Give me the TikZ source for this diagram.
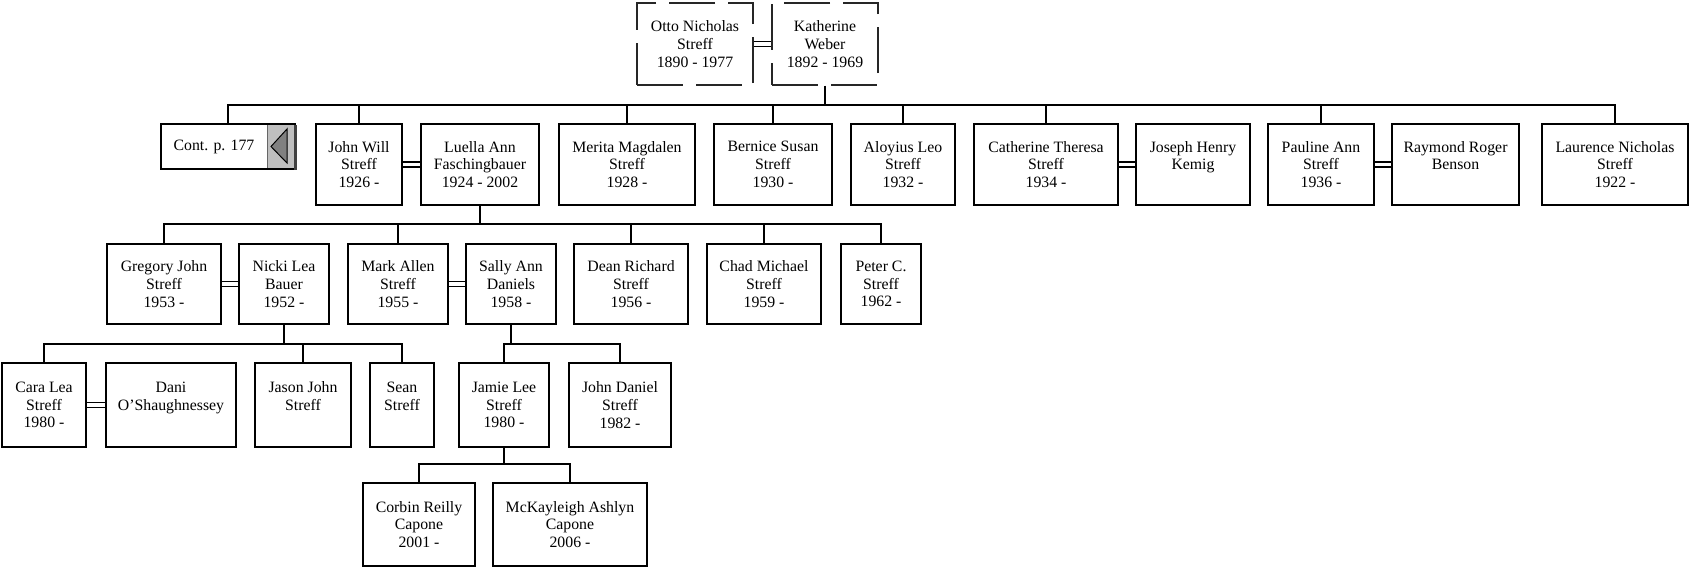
\documentclass[tikz,border=0pt]{standalone}
\usepackage{fontspec}
\setmainfont{Liberation Serif}
\newcommand\boxfont{\fontsize{15.8}{17.8}\selectfont}
\newcommand\pbox[6][box]{%
  \node[#1, minimum width={(#4-#2)*1pt}, minimum height={(#6-#3)*1pt}] (#5) at ({(#2+#4)/2},{(#3+#6)/2}) }
\begin{document}
\begin{tikzpicture}[x=1pt,y=-1pt,
  box/.style={draw, line width=2pt, inner sep=0pt, align=center, font=\boxfont, fill=white},
  dbox/.style={draw=black!85, line width=1.4pt, dash pattern=on 46pt off 13pt, inner sep=0pt, align=center, font=\boxfont},
  lbl/.style={inner sep=0pt, font=\boxfont},
  conn/.style={line width=2pt, line join=miter},
  marr/.style={line width=1.3pt}]
\fill[white] (0,0) rectangle (1690,568);
\useasboundingbox (0,0) rectangle (1690,568);

% generation 0
\pbox[dbox]{637}{3}{753}{otto}{85}{Otto Nicholas\\Streff\\1890 - 1977};
\pbox[dbox]{772}{3}{878}{kath}{85}{Katherine\\Weber\\1892 - 1969};

% generation 1
\pbox{161}{124}{295}{cont}{169}{};
\fill[black!25] (267,125) rectangle (294,168);
\draw[black!60, line width=0.8pt] (267,125) -- (267,168);
\draw[line width=2.5pt, black!75] (295.5,125) -- (295.5,169.5);
\draw[fill=black!50, line width=1pt] (271,146.5) -- (287,129) -- (287,163) -- cycle;
\node[lbl] (contlbl) at (214,146.5) {Cont. p. 177};

\pbox{316}{124}{402}{john}{205}{John Will\\Streff\\1926 -};
\pbox{421}{124}{539}{luella}{205}{Luella Ann\\Faschingbauer\\1924 - 2002};
\pbox{559}{124}{695}{merita}{205}{Merita Magdalen\\Streff\\1928 -};
\pbox{714}{124}{832}{bernice}{205}{Bernice Susan\\Streff\\1930 -};
\pbox{851}{124}{955}{aloy}{205}{Aloyius Leo\\Streff\\1932 -};
\pbox{974}{124}{1118}{cath}{205}{Catherine Theresa\\Streff\\1934 -};
\pbox{1136}{124}{1250}{joseph}{205}{Joseph Henry\\Kemig\\\mbox{}};
\pbox{1268}{124}{1374}{paul}{205}{Pauline Ann\\Streff\\1936 -};
\pbox{1392}{124}{1519}{raymond}{205}{Raymond Roger\\Benson\\\mbox{}};
\pbox{1542}{124}{1688}{laur}{205}{Laurence Nicholas\\Streff\\1922 -};

% generation 2
\pbox{107}{244}{221}{greg}{324}{Gregory John\\Streff\\1953 -};
\pbox{239}{244}{329}{nicki}{324}{Nicki Lea\\Bauer\\1952 -};
\pbox{348}{244}{448}{mark}{324}{Mark Allen\\Streff\\1955 -};
\pbox{466}{244}{556}{sally}{324}{Sally Ann\\Daniels\\1958 -};
\pbox{574}{244}{688}{dean}{324}{Dean Richard\\Streff\\1956 -};
\pbox{707}{244}{821}{chad}{324}{Chad Michael\\Streff\\1959 -};
\pbox{841}{244}{921}{peter}{324}{Peter C.\\Streff\\1962 -};

% generation 3
\pbox{2}{363}{86}{cara}{447}{Cara Lea\\Streff\\1980 -};
\pbox{106}{363}{236}{dani}{447}{Dani\\O\symbol{39}Shaughnessey\\\mbox{}};
\pbox{255}{363}{351}{jason}{447}{Jason John\\Streff\\\mbox{}};
\pbox{370}{363}{434}{sean}{447}{Sean\\Streff\\\mbox{}};
\pbox{459}{363}{549}{jamie}{447}{Jamie Lee\\Streff\\1980 -};
\pbox{569}{363}{671}{johnd}{447}{John Daniel\\Streff\\1982 -};

% generation 4
\pbox{363}{483}{475}{corbin}{566}{Corbin Reilly\\Capone\\2001 -};
\pbox{493}{483}{647}{mck}{566}{McKayleigh Ashlyn\\Capone\\2006 -};

% marriages
\foreach \a/\b in {otto/kath,john/luella,cath/joseph,paul/raymond,greg/nicki,mark/sally,cara/dani}{
  \draw[marr] ([yshift=2.5pt]\a.east) -- ([yshift=2.5pt]\b.west);
  \draw[marr] ([yshift=-2.5pt]\a.east) -- ([yshift=-2.5pt]\b.west);
}

% descent lines
\coordinate (bus1) at (825,105);
\draw[conn] (kath.south) -- (bus1);
\draw[conn] (cont.north) |- (bus1) -| (laur.north);
\foreach \n in {john,merita,bernice,aloy,cath,paul}
  \draw[conn] (\n.north) -- (\n.north |- bus1);

\coordinate (bus2) at (480,224);
\draw[conn] (luella.south) -- (bus2);
\draw[conn] (greg.north) |- (bus2) -| (peter.north);
\foreach \n in {mark,dean,chad}
  \draw[conn] (\n.north) -- (\n.north |- bus2);

\coordinate (bus3) at (284,344);
\draw[conn] (nicki.south) -- (bus3);
\draw[conn] (cara.north) |- (bus3) -| (sean.north);
\draw[conn] (jason.north) -- (jason.north |- bus3);

\coordinate (bus4) at (511,344);
\draw[conn] (sally.south) -- (bus4);
\draw[conn] (jamie.north) |- (bus4) -| (johnd.north);

\coordinate (bus5) at (504,464);
\draw[conn] (jamie.south) -- (bus5);
\draw[conn] (corbin.north) |- (bus5) -| (mck.north);
\end{tikzpicture}
\end{document}
